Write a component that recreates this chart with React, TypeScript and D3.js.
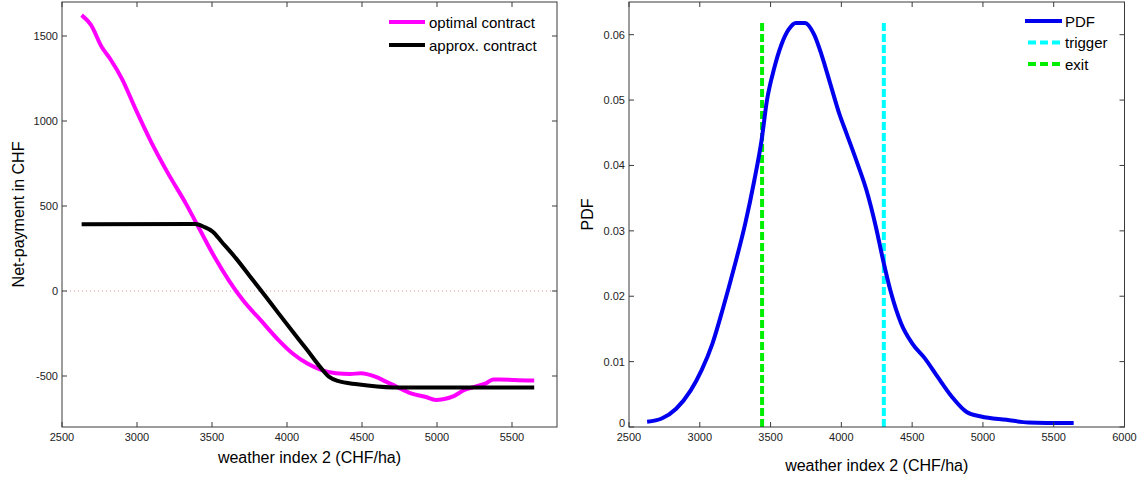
import React from "react";
import * as d3 from "d3";

// ---------- data ----------
const optimalX = [2631, 2693, 2764, 2826, 2898, 2993, 3088, 3207, 3326, 3421, 3517, 3612, 3707, 3826, 3945, 4040, 4136, 4231, 4326, 4421, 4493, 4588, 4660, 4731, 4826, 4921, 4993, 5040, 5112, 5183, 5255, 5326, 5374, 5421, 5517, 5648];
const optimalY = [1623, 1565, 1437, 1359, 1251, 1065, 888, 692, 514, 357, 200, 63, -55, -173, -290, -369, -427, -465, -484, -488, -484, -504, -533, -563, -602, -622, -641, -637, -618, -582, -563, -543, -520, -520, -524, -527];
const approxX = [2631, 3386, 3445, 3505, 3564, 3660, 3755, 3850, 3945, 4040, 4136, 4219, 4279, 4338, 4469, 4707, 5648];
const approxY = [392, 394, 378, 349, 290, 192, 84, -24, -133, -241, -349, -445, -504, -529, -549, -567, -567];

const pdfX = [2628, 2731, 2833, 2936, 3013, 3090, 3167, 3244, 3321, 3385, 3436, 3474, 3526, 3577, 3628, 3679, 3744, 3808, 3859, 3923, 3987, 4038, 4115, 4179, 4244, 4295, 4346, 4423, 4500, 4590, 4679, 4782, 4885, 4987, 5167, 5321, 5641];
const pdfY = [0.0008, 0.0013, 0.0028, 0.0056, 0.0087, 0.0128, 0.0184, 0.0245, 0.0311, 0.0377, 0.0438, 0.0499, 0.0549, 0.0585, 0.0608, 0.0618, 0.0618, 0.06, 0.057, 0.0524, 0.0478, 0.0448, 0.0402, 0.0361, 0.0306, 0.0255, 0.0209, 0.0158, 0.0128, 0.0105, 0.0077, 0.0046, 0.0023, 0.0016, 0.0011, 0.0007, 0.0006];
const triggerX = 4300;
const exitX = 3440;
const vlineTop = 0.062;

const leftXTicks = [2500, 3000, 3500, 4000, 4500, 5000, 5500];
const leftYTicks = [-500, 0, 500, 1000, 1500];
const rightXTicks = [2500, 3000, 3500, 4000, 4500, 5000, 5500, 6000];
const rightYTicks = [0, 0.01, 0.02, 0.03, 0.04, 0.05, 0.06];

const leftLegend = ["optimal contract", "approx. contract"];
const rightLegend = ["PDF", "trigger", "exit"];

const FONT = "Arial, 'Liberation Sans', Helvetica, sans-serif";

type Pt = [number, number];

function Frame({ x, y, ticksX, ticksY, fmtY, zeroLift }: any) {
  const [l, r] = x.range();
  const [b, t] = y.range();
  const tl = 5;
  return (
    <g>
      <rect x={l} y={t} width={r - l} height={b - t} fill="none" stroke="#3a3a3a" strokeWidth={1} />
      {ticksX.map((v: number) => (
        <g key={"x" + v}>
          <line x1={x(v)} x2={x(v)} y1={b} y2={b - tl} stroke="#3a3a3a" />
          <line x1={x(v)} x2={x(v)} y1={t} y2={t + tl} stroke="#3a3a3a" />
          <text x={x(v)} y={b + 14} textAnchor="middle" fontSize={11} fontFamily={FONT} fill="#222">
            {v}
          </text>
        </g>
      ))}
      {ticksY.map((v: number) => (
        <g key={"y" + v}>
          <line x1={l} x2={l + tl} y1={y(v)} y2={y(v)} stroke="#3a3a3a" />
          <line x1={r} x2={r - tl} y1={y(v)} y2={y(v)} stroke="#3a3a3a" />
          <text
            x={l - 4}
            y={zeroLift && v === 0 ? y(v) - 4 : y(v)}
            textAnchor="end"
            dominantBaseline="central"
            fontSize={11}
            fontFamily={FONT}
            fill="#222"
          >
            {fmtY(v)}
          </text>
        </g>
      ))}
    </g>
  );
}

export default function App() {
  // left panel
  const xL = d3.scaleLinear().domain([2500, 5800]).range([62, 557]);
  const yL = d3.scaleLinear().domain([-800, 1700]).range([427, 2]);
  // right panel
  const xR = d3.scaleLinear().domain([2500, 6000]).range([629, 1124.5]);
  const yR = d3.scaleLinear().domain([0, 0.065]).range([427, 2]);

  const lineL = d3
    .line<Pt>()
    .x((d) => xL(d[0]))
    .y((d) => yL(d[1]))
    .curve(d3.curveMonotoneX);
  const lineR = d3
    .line<Pt>()
    .x((d) => xR(d[0]))
    .y((d) => yR(d[1]))
    .curve(d3.curveMonotoneX);

  const optPts: Pt[] = optimalX.map((v, i) => [v, optimalY[i]]);
  const apxPts: Pt[] = approxX.map((v, i) => [v, approxY[i]]);
  const pdfPts: Pt[] = pdfX.map((v, i) => [v, pdfY[i]]);

  const lMid = (xL.range()[0] + xL.range()[1]) / 2;
  const rMid = (xR.range()[0] + xR.range()[1]) / 2;

  return (
    <svg
      width={1140}
      height={478}
      style={{ position: "absolute", left: 0, top: 0, background: "#fff" }}
    >
      <rect x={0} y={0} width={1140} height={478} fill="#fff" />
      {/* LEFT PANEL */}
      <line
        x1={xL(2500)}
        x2={xL(5800)}
        y1={yL(0)}
        y2={yL(0)}
        stroke="#d08080"
        strokeWidth={1}
        strokeDasharray="1,3"
        opacity={0.8}
      />
      <path d={lineL(optPts) || ""} fill="none" stroke="#ff00ff" strokeWidth={4} strokeLinejoin="round" />
      <path d={lineL(apxPts) || ""} fill="none" stroke="#000" strokeWidth={4} strokeLinejoin="round" />
      <Frame x={xL} y={yL} ticksX={leftXTicks} ticksY={leftYTicks} fmtY={(v: number) => String(v)} />
      <text
        transform={`translate(24,${(yL.range()[0] + yL.range()[1]) / 2}) rotate(-90)`}
        textAnchor="middle"
        fontSize={16}
        fontFamily={FONT}
        fill="#000"
      >
        Net-payment in CHF
      </text>
      <text x={lMid} y={463} textAnchor="middle" fontSize={16} fontFamily={FONT} fill="#000">
        weather index 2 (CHF/ha)
      </text>
      {/* left legend */}
      {leftLegend.map((name, i) => (
        <g key={name}>
          <line
            x1={389}
            x2={425}
            y1={22 + i * 23}
            y2={22 + i * 23}
            stroke={i === 0 ? "#ff00ff" : "#000"}
            strokeWidth={4}
          />
          <text x={429} y={22 + i * 23} dominantBaseline="central" fontSize={15} fontFamily={FONT} fill="#000">
            {name}
          </text>
        </g>
      ))}

      {/* RIGHT PANEL */}
      <line
        x1={xR(exitX)}
        x2={xR(exitX)}
        y1={yR(0)}
        y2={yR(vlineTop)}
        stroke="#00ee00"
        strokeWidth={4}
        strokeDasharray="8,3"
      />
      <line
        x1={xR(triggerX)}
        x2={xR(triggerX)}
        y1={yR(0)}
        y2={yR(vlineTop)}
        stroke="#00ffff"
        strokeWidth={4}
        strokeDasharray="8,3"
      />
      <path d={lineR(pdfPts) || ""} fill="none" stroke="#0000ee" strokeWidth={4} strokeLinejoin="round" />
      <Frame
        x={xR}
        y={yR}
        ticksX={rightXTicks}
        ticksY={rightYTicks}
        fmtY={(v: number) => (v === 0 ? "0" : d3.format(".2f")(v))}
        zeroLift
      />
      <text
        transform={`translate(593,${(yR.range()[0] + yR.range()[1]) / 2}) rotate(-90)`}
        textAnchor="middle"
        fontSize={16}
        fontFamily={FONT}
        fill="#000"
      >
        PDF
      </text>
      <text x={rMid} y={471} textAnchor="middle" fontSize={16} fontFamily={FONT} fill="#000">
        weather index 2 (CHF/ha)
      </text>
      {/* right legend */}
      {rightLegend.map((name, i) => {
        const yy = 21 + i * 21.5;
        const col = i === 0 ? "#0000ee" : i === 1 ? "#00ffff" : "#00ee00";
        return (
          <g key={name}>
            <line
              x1={i === 0 ? 1025 : 1028}
              x2={1062}
              y1={yy}
              y2={yy}
              stroke={col}
              strokeWidth={4}
              strokeDasharray={i === 0 ? undefined : "8,4"}
            />
            <text x={1065} y={yy} dominantBaseline="central" fontSize={15} fontFamily={FONT} fill="#000">
              {name}
            </text>
          </g>
        );
      })}
    </svg>
  );
}
